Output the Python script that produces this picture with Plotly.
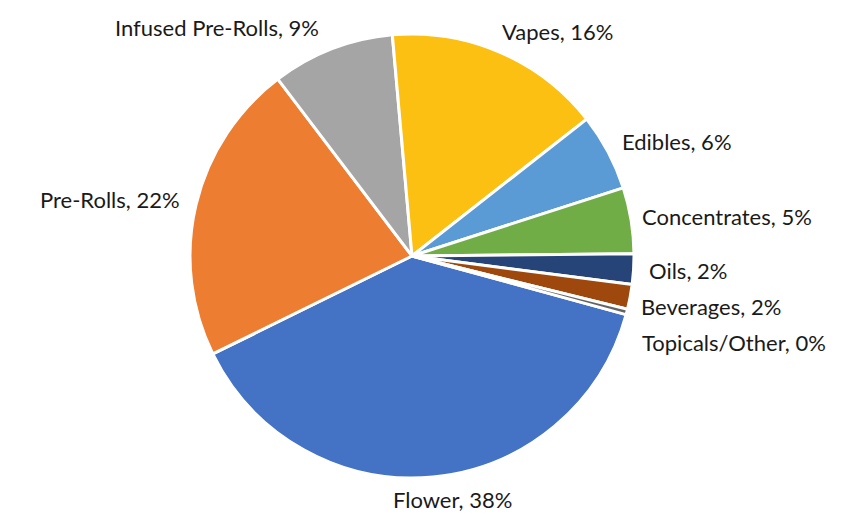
import math
import plotly.graph_objects as go

categories = ["Flower", "Pre-Rolls", "Infused Pre-Rolls", "Vapes", "Edibles",
              "Concentrates", "Oils", "Beverages", "Topicals/Other"]
shares = [38.4, 21.9, 8.9, 15.8, 5.6, 4.8, 2.2, 1.8, 0.4]
colors = ["#4472C4", "#ED7D31", "#A5A5A5", "#FBC012", "#5B9BD5",
          "#70AD47", "#264478", "#9E480E", "#636363"]

W, H = 852, 522
cx, cy, r = 412, 256, 222
start_angle = 105.3          # clockwise from 12 o'clock
font_size = 22
gap = 12
line_h = 22
min_spacing = 36

fig = go.Figure()
fig.add_trace(go.Pie(
    labels=categories, values=shares, sort=False,
    direction="clockwise", rotation=start_angle,
    marker=dict(colors=colors, line=dict(color="white", width=3)),
    textinfo="none",
    domain=dict(x=[(cx - r) / W, (cx + r) / W],
                y=[(H - cy - r) / H, (H - cy + r) / H]),
    showlegend=False, hoverinfo="label+percent",
))

# outside-end labels placed along each slice's mid-angle
total = sum(shares)
acc = 0.0
labels = []
for name, v in zip(categories, shares):
    mid = math.radians(start_angle + (acc + v / 2) / total * 360)
    acc += v
    s, c = math.sin(mid), math.cos(mid)
    text = f"{name}, {round(v / total * 100):d}%"
    w_est = len(text) * 0.48 * font_size
    ax = cx + (r + gap) * s
    ay = cy - (r + gap) * c
    f = max(-1.0, min(1.0, 3.3 * s))
    bx = ax + f * w_est / 2
    by = ay - c * line_h / 2
    labels.append([text, bx, by, s])

# push crowded right-side labels downward
right = [l for l in labels if l[3] > 0.5]
right.sort(key=lambda l: l[2])
for i in range(1, len(right)):
    if right[i][2] - right[i - 1][2] < min_spacing:
        right[i][2] = right[i - 1][2] + min_spacing

for text, bx, by, s in labels:
    fig.add_annotation(
        x=bx / W, y=1 - by / H, xref="paper", yref="paper",
        text=text, showarrow=False, xanchor="center", yanchor="middle",
        font=dict(family="Lato, Open Sans, sans-serif", size=font_size, color="#1a1a1a"),
    )

fig.update_layout(
    width=W, height=H,
    margin=dict(l=0, r=0, t=0, b=0),
    paper_bgcolor="white", plot_bgcolor="white",
)
fig.write_html("out.html")
